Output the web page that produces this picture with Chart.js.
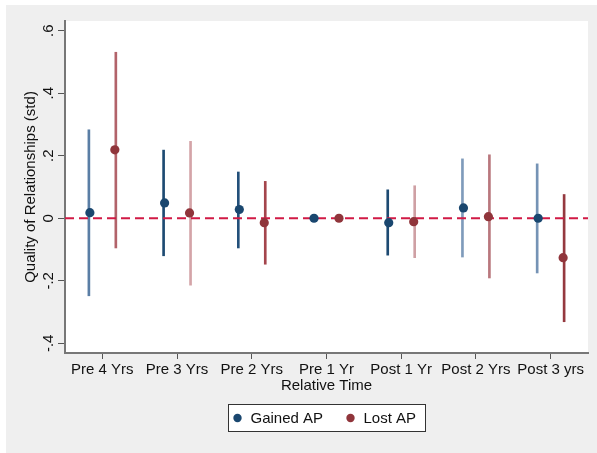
<!DOCTYPE html>
<html>
<head>
<meta charset="utf-8">
<script src="https://cdn.jsdelivr.net/npm/chart.js@4.4.1/dist/chart.umd.min.js"></script>
<style>
  html, body { margin: 0; padding: 0; background: #fff; }
  #wrap { position: relative; width: 597px; height: 453px; }
</style>
</head>
<body>
<div id="wrap"><canvas id="chart" width="597" height="453"></canvas></div>
<script>
// ===== DATA =====
const categories = ['Pre 4 Yrs', 'Pre 3 Yrs', 'Pre 2 Yrs', 'Pre 1 Yr', 'Post 1 Yr', 'Post 2 Yrs', 'Post 3 yrs'];
const yTickValues = [-0.4, -0.2, 0, 0.2, 0.4, 0.6];
const yTickLabels = ['-.4', '-.2', '0', '.2', '.4', '.6'];

const gainedEst = [0.018, 0.049, 0.028, 0.0, -0.014, 0.033, 0.0];
const gainedLo  = [-0.248, -0.120, -0.095, null, -0.118, -0.124, -0.175];
const gainedHi  = [0.283, 0.218, 0.148, null, 0.091, 0.190, 0.174];

const lostEst = [0.219, 0.017, -0.014, 0.0, -0.011, 0.005, -0.126];
const lostLo  = [-0.095, -0.214, -0.147, null, -0.126, -0.191, -0.331];
const lostHi  = [0.531, 0.246, 0.118, null, 0.104, 0.203, 0.076];

// ===== STYLE =====
const NAVY = '#1a476f';
const MAROON = '#90353b';
const FONT = '"Liberation Sans", Arial, sans-serif';
const gainedCiColors = ['#5a7ea5', '#1d4a72', '#23507a', NAVY, '#1d4a72', '#7f9bbb', '#7593b5'];
const lostCiColors = ['#b2636a', '#d4a4a8', '#a4454c', MAROON, '#cfa0a4', '#b9777d', '#95393f'];
const SHIFT = 0.167;

const xPos = (i, d) => i + 1 + d;
const ciData = (lo, hi, d) => lo.map((l, i) => (l === null ? null : { x: xPos(i, d), y: [l, hi[i]] }))
  .filter(p => p !== null);
const ciColors = (lo, colors) => lo.map((l, i) => (l === null ? null : colors[i])).filter(c => c !== null);
const estData = (est, d) => est.map((v, i) => ({ x: xPos(i, d), y: v }));

const background = {
  id: 'background',
  beforeDraw(chart) {
    const { ctx, chartArea: a, width, height } = chart;
    ctx.save();
    ctx.fillStyle = '#ffffff';
    ctx.fillRect(0, 0, width, height);
    ctx.fillStyle = '#efefef';
    ctx.fillRect(6, 5, width - 6, height - 5);
    ctx.fillStyle = '#ffffff';
    ctx.fillRect(a.left, a.top, a.right - a.left, a.bottom - a.top);
    ctx.restore();
  },
};

const axisText = {
  id: 'axisText',
  afterDraw(chart) {
    const { ctx, chartArea: a, scales } = chart;
    ctx.save();
    ctx.fillStyle = '#111';
    ctx.font = `15px ${FONT}`;
    ctx.textAlign = 'center';
    ctx.textBaseline = 'middle';
    // rotated y tick labels
    yTickValues.forEach((v, i) => {
      const y = scales.y.getPixelForValue(v);
      ctx.save();
      ctx.translate(49, y);
      ctx.rotate(-Math.PI / 2);
      ctx.fillText(yTickLabels[i], 0, 0);
      ctx.restore();
    });
    // y title
    ctx.save();
    ctx.translate(31, (a.top + a.bottom) / 2);
    ctx.rotate(-Math.PI / 2);
    ctx.fillText('Quality of Relationships (std)', 0, 0);
    ctx.restore();
    // x title
    ctx.fillText('Relative Time', (a.left + a.right) / 2, 386);

    // legend
    ctx.fillStyle = '#ffffff';
    ctx.fillRect(228, 404, 198, 28);
    ctx.strokeStyle = '#333';
    ctx.lineWidth = 1;
    ctx.strokeRect(228.5, 404.5, 197, 27);
    ctx.fillStyle = NAVY;
    ctx.beginPath(); ctx.arc(237.5, 418, 4.2, 0, Math.PI * 2); ctx.fill();
    ctx.fillStyle = MAROON;
    ctx.beginPath(); ctx.arc(350.5, 418, 4.2, 0, Math.PI * 2); ctx.fill();
    ctx.fillStyle = '#111';
    ctx.textAlign = 'left';
    ctx.fillText('Gained AP', 250.5, 418.5);
    ctx.fillText('Lost AP', 363.5, 418.5);
    ctx.restore();
  },
};

new Chart(document.getElementById('chart').getContext('2d'), {
  data: {
    datasets: [
      {
        type: 'bar',
        label: 'Gained CI',
        data: ciData(gainedLo, gainedHi, -SHIFT),
        backgroundColor: ciColors(gainedLo, gainedCiColors),
        barThickness: 2,
        order: 3,
      },
      {
        type: 'bar',
        label: 'Lost CI',
        data: ciData(lostLo, lostHi, SHIFT),
        backgroundColor: ciColors(lostLo, lostCiColors),
        barThickness: 2,
        order: 3,
      },
      {
        type: 'line',
        label: 'zero',
        data: [{ x: 0.5, y: 0 }, { x: 7.5, y: 0 }],
        borderColor: '#d11a45',
        borderWidth: 1.8,
        borderDash: [9, 5],
        pointRadius: 0,
        order: 2,
      },
      {
        type: 'scatter',
        label: 'Gained AP',
        data: estData(gainedEst, -SHIFT),
        backgroundColor: NAVY,
        borderColor: NAVY,
        pointRadius: 4.6,
        borderWidth: 0,
        order: 1,
      },
      {
        type: 'scatter',
        label: 'Lost AP',
        data: estData(lostEst, SHIFT),
        backgroundColor: MAROON,
        borderColor: MAROON,
        pointRadius: 4.6,
        borderWidth: 0,
        order: 1,
      },
    ],
  },
  options: {
    responsive: false,
    animation: false,
    layout: { padding: { top: 21, right: 9, left: 0, bottom: 0 } },
    plugins: { legend: { display: false }, tooltip: { enabled: false } },
    scales: {
      x: {
        type: 'linear',
        min: 0.5,
        max: 7.5,
        offset: false,
        afterBuildTicks: (scale) => { scale.ticks = categories.map((_, i) => ({ value: i + 1 })); },
        afterFit: (scale) => { scale.height = 100; },
        ticks: {
          autoSkip: false,
          maxRotation: 0,
          minRotation: 0,
          padding: 2,
          color: '#111',
          font: { family: FONT, size: 15 },
          callback: (v) => categories[Math.round(v) - 1] || '',
        },
        grid: { offset: false, drawOnChartArea: false, drawTicks: true, tickLength: 6, color: '#555', lineWidth: 1 },
        border: { display: true, color: '#777', width: 2 },
      },
      y: {
        type: 'linear',
        min: -0.431,
        max: 0.631,
        afterBuildTicks: (scale) => { scale.ticks = yTickValues.map(v => ({ value: v })); },
        afterFit: (scale) => { scale.width = 65; },
        ticks: { color: 'transparent', font: { family: FONT, size: 15 } },
        grid: { offset: false, drawOnChartArea: false, drawTicks: true, tickLength: 7, color: '#555', lineWidth: 1 },
        border: { display: true, color: '#777', width: 2 },
      },
    },
  },
  plugins: [background, axisText],
});
</script>
</body>
</html>
